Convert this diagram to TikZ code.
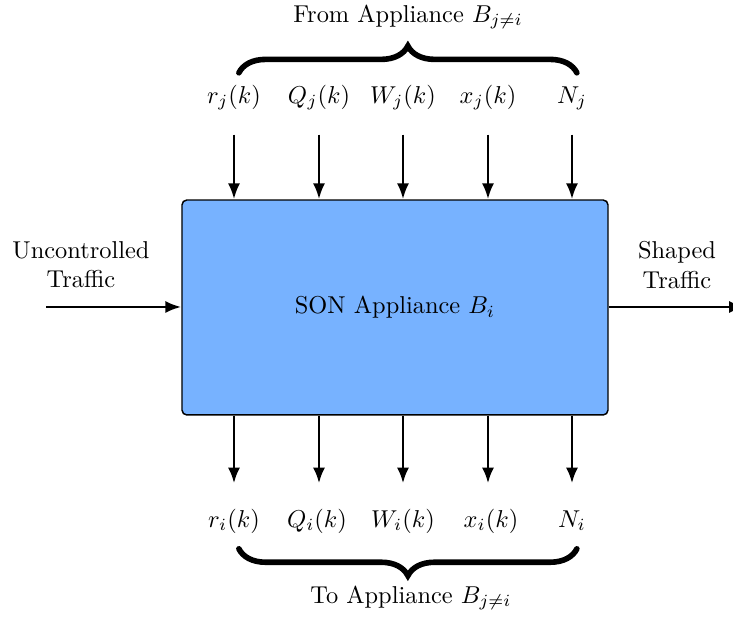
\documentclass[tikz,border=0pt]{standalone}
\usepackage{amsmath}
\usepackage{amssymb}
\usepackage{tikz}
\usetikzlibrary{arrows.meta,decorations.pathreplacing}
\usetikzlibrary{calc,positioning}

\definecolor{applblue}{RGB}{119,178,255}

\begin{document}
\begin{tikzpicture}[x=0.01441cm,y=0.01441cm,->,>={Latex[length=6.5pt,width=5pt]},line width=1.15pt,
	appliance/.style={draw,fill=applblue,rounded corners=2pt,line width=0.6pt,minimum width=174.6pt,minimum height=88.1pt},
	sig/.style={text height=7.5pt,text depth=2.5pt},
	brc/.style={-,decorate,decoration={brace,amplitude=11pt},line width=2.3pt,line cap=round}]
	  \useasboundingbox (0,0) rectangle (733,617);
	  \node[appliance] (B) at (395,309.5) {SON Appliance $B_i$};

	  \node[sig] (rj) at (234,520) {$r_j(k)$};
	  \node[sig] (Qj) at (319,520) {$Q_j(k)$};
	  \node[sig] (Wj) at (403,520) {$W_j(k)$};
	  \node[sig] (xj) at (488,520) {$x_j(k)$};
	  \node[sig] (Nj) at (572,520) {$N_j$};

	  \node[sig] (ri) at (234,96) {$r_i(k)$};
	  \node[sig] (Qi) at (317,96) {$Q_i(k)$};
	  \node[sig] (Wi) at (403,96) {$W_i(k)$};
	  \node[sig] (xi) at (491,96) {$x_i(k)$};
	  \node[sig] (Ni) at (572,96) {$N_i$};

	  \node (from) at (408,600) {From Appliance $B_{j\neq i}$};
	  \node (to) at (411,19) {To Appliance $B_{j\neq i}$};

	  \node[align=center] (unc) at (81,352) {Uncontrolled\\Traffic};
	  \node[align=center] (shp) at (677,352) {Shaped\\Traffic};
	  \coordinate (in) at (46,310);
	  \coordinate (out) at (745,310);

	  \path[shorten <=6.5pt]
(rj) edge (rj |- B.north)
(Qj) edge (Qj |- B.north)
(Wj) edge (Wj |- B.north)
(xj) edge (xj |- B.north)
(Nj) edge (Nj |- B.north)
;
	  \path[shorten >=6.5pt]
(B.south -| rj) edge (ri)
(B.south -| Qj) edge (Qj |- Qi.north)
(B.south -| Wj) edge (Wi)
(B.south -| xj) edge (xj |- xi.north)
(B.south -| Nj) edge (Ni)
;
	  \draw (in) -- (in -| B.west);
	  \draw (B.east |- out) -- (out);

	  \draw[brc] ([xshift=2pt,yshift=1pt]rj.north) -- ([xshift=2pt,yshift=1pt]Nj.north);
	  \draw[brc] ([xshift=2pt,yshift=-2.5pt]Ni.south) -- ([xshift=2pt,yshift=-2.5pt]ri.south);
	\end{tikzpicture}
\end{document}
